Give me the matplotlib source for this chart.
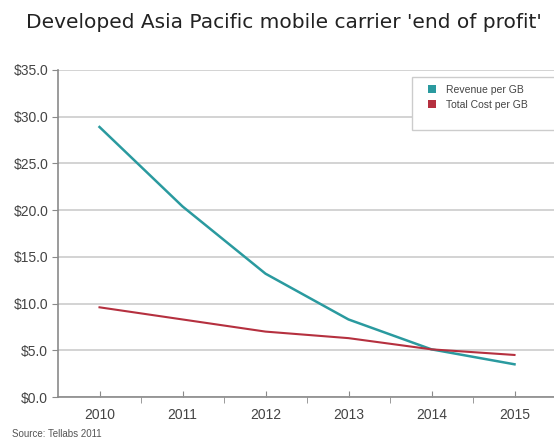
import matplotlib.pyplot as plt
from matplotlib.patches import Patch, Rectangle
from matplotlib.ticker import FixedLocator

years = ["2010", "2011", "2012", "2013", "2014", "2015"]
revenue_per_gb = [28.9, 20.4, 13.2, 8.3, 5.1, 3.5]
cost_per_gb = [9.6, 8.3, 7.0, 6.3, 5.1, 4.5]
y_ticks = [0, 5, 10, 15, 20, 25, 30, 35]

teal = "#2a9a9f"
red = "#b5303f"
grey = "#8a8a8a"

plt.rcParams['font.family'] = ['Liberation Sans', 'DejaVu Sans']

W, H = 554, 441
fig = plt.figure(figsize=(W / 100, H / 100), dpi=100)
ax = fig.add_axes([58 / W, 1 - 397 / H, 498 / W, 327 / H])

x = list(range(len(years)))
ax.plot(x, revenue_per_gb, color=teal, lw=1.8, solid_joinstyle='round')
ax.plot(x, cost_per_gb, color=red, lw=1.5, solid_joinstyle='round')

ax.set_xlim(-0.5, 5.5)
ax.set_ylim(0, 35)
ax.set_yticks(y_ticks)
ax.set_yticklabels(["$%.1f" % v for v in y_ticks], color="#444444", fontsize=10)
ax.set_xticks(x)
ax.set_xticklabels(years, color="#444444", fontsize=10)
ax.xaxis.set_minor_locator(FixedLocator([i + 0.5 for i in x[:-1]]))

ax.grid(axis='y', color="#cccccc", lw=1.2)
ax.set_axisbelow(True)
for s in ['top', 'right']:
    ax.spines[s].set_visible(False)
for s in ['left', 'bottom']:
    ax.spines[s].set_color(grey)
    ax.spines[s].set_linewidth(1.2)

ax.tick_params(axis='y', length=4, color=grey, direction='out', pad=3)
ax.tick_params(axis='x', which='major', length=4, color=grey, direction='in', pad=8)
ax.tick_params(axis='x', which='minor', length=4, color=grey, direction='out')

# legend box runs off the right edge in the original
fig.add_artist(Rectangle((412 / W, 1 - 130 / H), 160 / W, 53 / H, transform=fig.transFigure,
                         facecolor='white', edgecolor="#cccccc", lw=1, zorder=5))
handles = [Patch(facecolor=teal, label="Revenue per GB"),
           Patch(facecolor=red, label="Total Cost per GB")]
leg = fig.legend(handles=handles, loc='upper left', bbox_to_anchor=(428 / W, 1 - 85 / H),
                 fontsize=7.5, frameon=False, handlelength=0.8, handleheight=0.8,
                 handletextpad=0.9, borderpad=0, labelspacing=0.45, borderaxespad=0)
leg.set_zorder(6)
for t in leg.get_texts():
    t.set_color("#444444")

fig.text(26 / W, 1 - 22 / H, "Developed Asia Pacific mobile carrier 'end of profit'",
         fontsize=14.5, color="#222222", va='center', ha='left', family='DejaVu Sans')
fig.text(12 / W, 1 - 434 / H, "Source: Tellabs 2011", fontsize=7, color="#555555", va='center')

fig.savefig("out.png", dpi=100)
